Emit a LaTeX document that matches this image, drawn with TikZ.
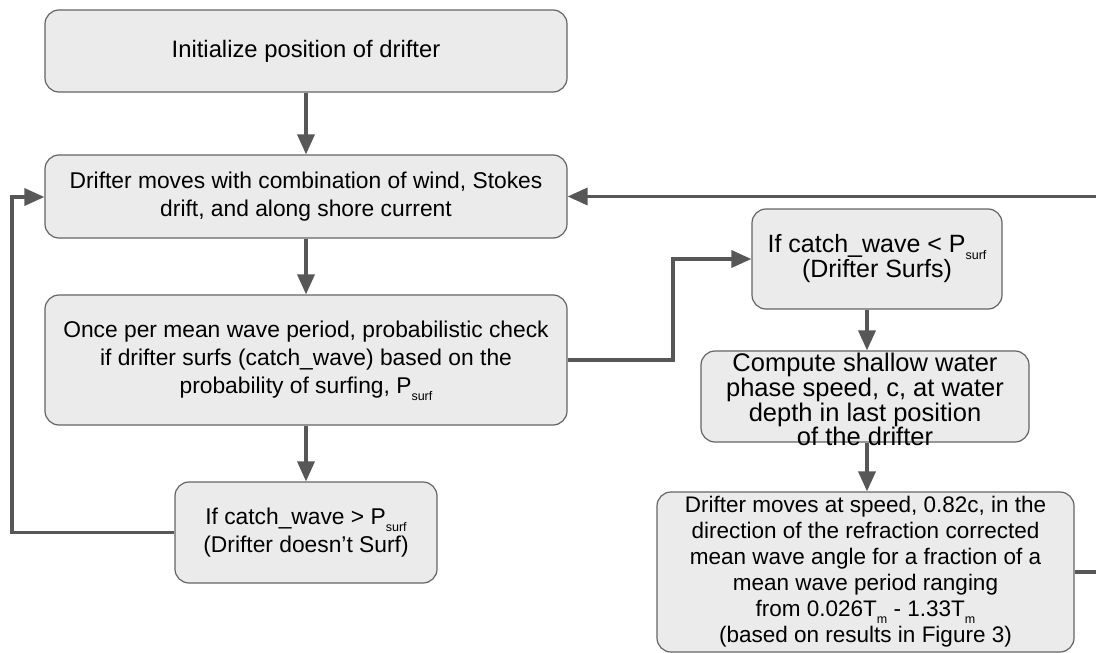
\documentclass[tikz,border=0pt]{standalone}
\usepackage{fontspec}
\setmainfont{Liberation Sans}
\usetikzlibrary{arrows.meta,calc}
\definecolor{boxfill}{HTML}{EBEBEB}
\definecolor{boxline}{HTML}{646464}
\definecolor{conn}{HTML}{575757}
\newcommand{\lowsub}[1]{\smash{\raisebox{-7pt}{\fontsize{12.5}{12.5}\selectfont #1}}}
\begin{document}
\begin{tikzpicture}[x=1pt,y=-1pt,
  box/.style={draw=boxline, fill=boxfill, line width=1.2pt, rounded corners=14pt,
    align=center, inner sep=0pt, font=\fontsize{22.8}{28}\selectfont},
  txt/.style={align=center, inner sep=0pt},
  arr/.style={draw=conn, line width=3.5pt, -{Triangle[length=20pt,width=17pt]}}]
\useasboundingbox (0,0) rectangle (1096,653);
\clip (0,0) rectangle (1096,653);

\node[box, minimum width=522pt, minimum height=82pt, font=\fontsize{23.8}{28}\selectfont] (b1) at (306,51)
  {Initialize position of drifter};
\node[box, minimum width=522pt, minimum height=83pt] (b2) at (306,196.5)
  {Drifter moves with combination of wind, Stokes\\drift, and along shore current};
\node[box, minimum width=522pt, minimum height=130pt] (b3) at (306,360)
  {Once per mean wave period, probabilistic check\\if drifter surfs (catch\_wave) based on the\\probability of surfing, P\lowsub{surf}};
\node[box, minimum width=262pt, minimum height=101pt] (b7) at (306,532.5)
  {If catch\_wave > P\lowsub{surf}\\(Drifter doesn’t Surf)};
\node[box, minimum width=250pt, minimum height=100pt, font=\fontsize{25}{25}\selectfont] (b4) at (877,259)
  {If catch\_wave < P\lowsub{surf}\\(Drifter Surfs)};
\node[box, minimum width=328pt, minimum height=91pt] (b5) at (865,396.5) {};
\node[txt, font=\fontsize{25.5}{23}\selectfont] (b5t) at (865,399.5)
  {Compute shallow water\\phase speed, c, at water\\depth in last position\\of the drifter};
\node[box, minimum width=417pt, minimum height=160pt, font=\fontsize{22.5}{26}\selectfont] (b6) at (865.5,572)
  {Drifter moves at speed, 0.82c, in the\\direction of the refraction corrected\\mean wave angle for a fraction of a\\mean wave period ranging\\from 0.026T\lowsub{m} - 1.33T\lowsub{m}\\(based on results in Figure 3)};

\coordinate (L) at (12,197);
\coordinate (M) at (673,0);
\coordinate (R) at (867,0);
\coordinate (E) at (1110,0);

\draw[arr] (b1.south) -- (b2.north);
\draw[arr] (b2.south) -- (b3.north);
\draw[arr] (b3.south) -- (b7.north);
\draw[arr] (b7.west) -| (L) -- (L -| b2.west);
\draw[arr] (b3.east) -- (b3.east -| M) |- (b4.west);
\draw[arr] (b4.south -| R) -- (b5.north -| R);
\draw[arr] (b5.south -| R) -- (b6.north -| R);
\draw[arr] (b6.east) -- (b6.east -| E) |- (b2.east);
\end{tikzpicture}
\end{document}
